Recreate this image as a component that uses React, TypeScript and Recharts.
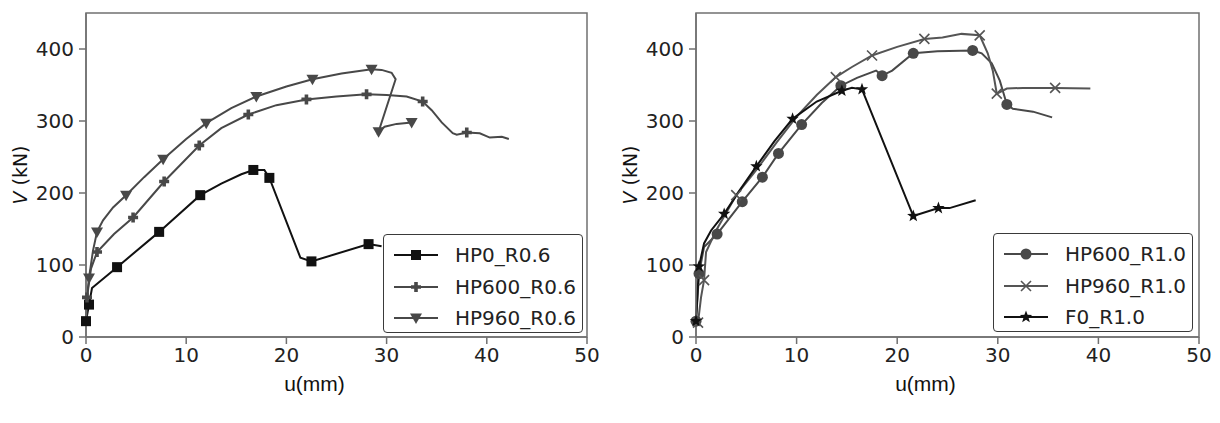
import React from "react";
import {
  ComposedChart,
  Line,
  Scatter,
  XAxis,
  YAxis,
  ReferenceArea,
} from "recharts";

type Pt = { x: number; y: number };

const xTicks = [0, 10, 20, 30, 40, 50];
const yTicks = [0, 100, 200, 300, 400];

// left panel, R0.6
const hp0R06Curve: Pt[] = [
  { x: 0, y: 22 }, { x: 0.3, y: 45 }, { x: 0.6, y: 68 }, { x: 3.1, y: 97 },
  { x: 7.3, y: 146 }, { x: 11.4, y: 197 }, { x: 13.5, y: 213 }, { x: 15.5, y: 226 },
  { x: 16.7, y: 232 }, { x: 17.8, y: 232 }, { x: 18.3, y: 221 }, { x: 21.4, y: 110 },
  { x: 22.5, y: 105 }, { x: 28.2, y: 129 }, { x: 29.5, y: 126 },
];
const hp0R06Marks: Pt[] = [
  { x: 0, y: 22 }, { x: 0.3, y: 45 }, { x: 3.1, y: 97 }, { x: 7.3, y: 146 },
  { x: 11.4, y: 197 }, { x: 16.7, y: 232 }, { x: 18.3, y: 221 }, { x: 22.5, y: 105 },
  { x: 28.2, y: 129 },
];

const hp600R06Curve: Pt[] = [
  { x: 0, y: 22 }, { x: 0.1, y: 55 }, { x: 0.5, y: 95 }, { x: 1.1, y: 118 },
  { x: 2.8, y: 143 }, { x: 4.7, y: 166 }, { x: 7.8, y: 216 }, { x: 11.3, y: 266 },
  { x: 13.5, y: 290 }, { x: 16.2, y: 309 }, { x: 19, y: 322 }, { x: 22, y: 330 },
  { x: 25, y: 334 }, { x: 28, y: 337 }, { x: 30, y: 336 }, { x: 32, y: 334 },
  { x: 33.6, y: 327 }, { x: 34.5, y: 315 }, { x: 35.5, y: 298 }, { x: 36.6, y: 283 },
  { x: 37, y: 281 }, { x: 38, y: 284 }, { x: 39.3, y: 283 }, { x: 40.3, y: 277 },
  { x: 41.5, y: 278 }, { x: 42.2, y: 275 },
];
const hp600R06Marks: Pt[] = [
  { x: 0.1, y: 55 }, { x: 1.1, y: 118 }, { x: 4.7, y: 166 }, { x: 7.8, y: 216 },
  { x: 11.3, y: 266 }, { x: 16.2, y: 309 }, { x: 22, y: 330 }, { x: 28, y: 337 },
  { x: 33.6, y: 327 }, { x: 38, y: 284 },
];

const hp960R06Curve: Pt[] = [
  { x: 0, y: 22 }, { x: 0.1, y: 55 }, { x: 0.3, y: 82 }, { x: 0.7, y: 120 },
  { x: 1.1, y: 146 }, { x: 1.7, y: 162 }, { x: 2.7, y: 180 }, { x: 4, y: 197 },
  { x: 5.8, y: 222 }, { x: 7.7, y: 247 }, { x: 10, y: 275 }, { x: 12, y: 297 },
  { x: 14.5, y: 318 }, { x: 17, y: 334 }, { x: 20, y: 348 }, { x: 22.6, y: 358 },
  { x: 25.5, y: 366 }, { x: 28.5, y: 372 }, { x: 29.5, y: 371 }, { x: 30.5, y: 367 },
  { x: 30.9, y: 358 }, { x: 29.2, y: 285 }, { x: 29.8, y: 292 }, { x: 31, y: 296 },
  { x: 32.5, y: 298 },
];
const hp960R06Marks: Pt[] = [
  { x: 0.3, y: 82 }, { x: 1.1, y: 146 }, { x: 4, y: 197 }, { x: 7.7, y: 247 },
  { x: 12, y: 297 }, { x: 17, y: 334 }, { x: 22.6, y: 358 }, { x: 28.5, y: 372 },
  { x: 29.2, y: 285 }, { x: 32.5, y: 298 },
];

// right panel, R1.0
const hp600R10Curve: Pt[] = [
  { x: 0, y: 22 }, { x: 0.3, y: 88 }, { x: 0.8, y: 125 }, { x: 2.1, y: 143 },
  { x: 4.6, y: 188 }, { x: 6.6, y: 222 }, { x: 8.2, y: 255 }, { x: 10.5, y: 295 },
  { x: 12.5, y: 325 }, { x: 14.4, y: 349 }, { x: 16, y: 360 }, { x: 17.9, y: 370 },
  { x: 18.5, y: 363 }, { x: 19.5, y: 370 }, { x: 21.6, y: 394 }, { x: 24, y: 397 },
  { x: 27.5, y: 398 }, { x: 28.4, y: 394 }, { x: 29.4, y: 380 }, { x: 30.2, y: 356 },
  { x: 30.9, y: 323 }, { x: 31.5, y: 317 }, { x: 33.5, y: 313 }, { x: 35.4, y: 305 },
];
const hp600R10Marks: Pt[] = [
  { x: 0, y: 22 }, { x: 0.3, y: 88 }, { x: 2.1, y: 143 }, { x: 4.6, y: 188 },
  { x: 6.6, y: 222 }, { x: 8.2, y: 255 }, { x: 10.5, y: 295 }, { x: 14.4, y: 349 },
  { x: 18.5, y: 363 }, { x: 21.6, y: 394 }, { x: 27.5, y: 398 }, { x: 30.9, y: 323 },
];

const hp960R10Curve: Pt[] = [
  { x: 0.2, y: 20 }, { x: 0.5, y: 55 }, { x: 0.8, y: 79 }, { x: 1, y: 118 },
  { x: 2, y: 148 }, { x: 4, y: 197 }, { x: 6, y: 232 }, { x: 8, y: 270 },
  { x: 10, y: 306 }, { x: 12, y: 336 }, { x: 13.9, y: 361 }, { x: 15.5, y: 375 },
  { x: 17.5, y: 391 }, { x: 20, y: 403 }, { x: 22.7, y: 414 }, { x: 24.5, y: 416 },
  { x: 26.4, y: 421 }, { x: 28.2, y: 419 }, { x: 29, y: 394 }, { x: 29.5, y: 370 },
  { x: 29.9, y: 338 }, { x: 30.9, y: 345 }, { x: 32.5, y: 346 }, { x: 35.7, y: 346 },
  { x: 39.2, y: 345 },
];
const hp960R10Marks: Pt[] = [
  { x: 0.2, y: 20 }, { x: 0.8, y: 79 }, { x: 4, y: 197 }, { x: 13.9, y: 361 },
  { x: 17.5, y: 391 }, { x: 22.7, y: 414 }, { x: 28.2, y: 419 }, { x: 29.9, y: 338 },
  { x: 35.7, y: 346 },
];

const f0R10Curve: Pt[] = [
  { x: 0, y: 22 }, { x: 0.3, y: 98 }, { x: 0.8, y: 130 }, { x: 1.5, y: 148 },
  { x: 2.8, y: 171 }, { x: 4.3, y: 203 }, { x: 6, y: 237 }, { x: 7.8, y: 272 },
  { x: 9.6, y: 303 }, { x: 12, y: 327 }, { x: 14.5, y: 342 }, { x: 15.5, y: 346 },
  { x: 16.5, y: 344 }, { x: 21.6, y: 168 }, { x: 24.1, y: 179 }, { x: 25.2, y: 179 },
  { x: 27.8, y: 190 },
];
const f0R10Marks: Pt[] = [
  { x: 0, y: 22 }, { x: 0.3, y: 98 }, { x: 2.8, y: 171 }, { x: 6, y: 237 },
  { x: 9.6, y: 303 }, { x: 14.5, y: 342 }, { x: 16.5, y: 344 }, { x: 21.6, y: 168 },
  { x: 24.1, y: 179 },
];

const BLACK = "#111";
const GRAY = "#484848";
const FRAME = "#707070";
const TICK_FONT = "'DejaVu Sans', Verdana, sans-serif";

// marker glyphs
const square = (cx: number, cy: number, c: string) => (
  <rect x={cx - 5} y={cy - 5} width={10} height={10} fill={c} />
);
const plus = (cx: number, cy: number, c: string) => (
  <path d={`M${cx - 5},${cy}H${cx + 5}M${cx},${cy - 5}V${cy + 5}`} stroke={c} strokeWidth={3.6} />
);
const triDown = (cx: number, cy: number, c: string) => (
  <polygon points={`${cx - 6},${cy - 4.5} ${cx + 6},${cy - 4.5} ${cx},${cy + 6}`} fill={c} />
);
const circle = (cx: number, cy: number, c: string) => <circle cx={cx} cy={cy} r={5.5} fill={c} />;
const cross = (cx: number, cy: number, c: string) => (
  <path d={`M${cx - 5},${cy - 5}L${cx + 5},${cy + 5}M${cx - 5},${cy + 5}L${cx + 5},${cy - 5}`} stroke={c} strokeWidth={1.6} />
);
const star = (cx: number, cy: number, c: string) => {
  const pts: string[] = [];
  for (let i = 0; i < 10; i++) {
    const r = i % 2 === 0 ? 6.5 : 2.7;
    const a = -Math.PI / 2 + (i * Math.PI) / 5;
    pts.push(`${cx + r * Math.cos(a)},${cy + r * Math.sin(a)}`);
  }
  return <polygon points={pts.join(" ")} fill={c} />;
};

type Glyph = (cx: number, cy: number, c: string) => React.ReactElement;

interface Series {
  name: string;
  curve: Pt[];
  marks: Pt[];
  color: string;
  glyph: Glyph;
}

const leftSeries: Series[] = [
  { name: "HP0_R0.6", curve: hp0R06Curve, marks: hp0R06Marks, color: BLACK, glyph: square },
  { name: "HP600_R0.6", curve: hp600R06Curve, marks: hp600R06Marks, color: GRAY, glyph: plus },
  { name: "HP960_R0.6", curve: hp960R06Curve, marks: hp960R06Marks, color: GRAY, glyph: triDown },
];
const rightSeries: Series[] = [
  { name: "HP600_R1.0", curve: hp600R10Curve, marks: hp600R10Marks, color: GRAY, glyph: circle },
  { name: "HP960_R1.0", curve: hp960R10Curve, marks: hp960R10Marks, color: "#555", glyph: cross },
  { name: "F0_R1.0", curve: f0R10Curve, marks: f0R10Marks, color: BLACK, glyph: star },
];

const LegendBox: React.FC<{ series: Series[]; left: number; top: number }> = ({ series, left, top }) => (
  <div
    style={{
      position: "absolute",
      left,
      top,
      width: 200,
      height: 99,
      background: "#fff",
      border: "1.5px solid #3a3a3a",
      borderRadius: 4,
      boxSizing: "border-box",
    }}
  >
    {series.map((s, i) => (
      <div key={s.name} style={{ position: "absolute", left: 8, top: 5 + i * 31.5, height: 30, display: "flex", alignItems: "center" }}>
        <svg width={46} height={30}>
          <line x1={2} y1={15} x2={46} y2={15} stroke={s.color} strokeWidth={2} />
          {s.glyph(24, 15, s.color)}
        </svg>
        <span style={{ marginLeft: 17, fontFamily: TICK_FONT, fontSize: 20, color: "#222", lineHeight: "30px" }}>{s.name}</span>
      </div>
    ))}
  </div>
);

const Panel: React.FC<{ series: Series[]; right: number }> = ({ series, right }) => (
  <ComposedChart width={610} height={423} margin={{ top: 13, right, bottom: 0, left: 0 }}>
    <XAxis
      type="number"
      dataKey="x"
      domain={[0, 50]}
      ticks={xTicks}
      height={86}
      stroke={FRAME}
      strokeWidth={1.5}
      tickSize={7}
      tickMargin={4}
      tick={{ fill: "#222", fontSize: 20, fontFamily: TICK_FONT }}
      label={{
        content: ({ viewBox }: any) => (
          <text
            x={viewBox.x + viewBox.width / 2 - 22}
            y={391}
            textAnchor="middle"
            fill="#111"
            fontSize={21}
            fontFamily="'Liberation Sans', Arial, sans-serif"
          >
            u(mm)
          </text>
        ),
      }}
    />
    <YAxis
      type="number"
      dataKey="y"
      domain={[0, 450]}
      ticks={yTicks}
      width={86}
      stroke={FRAME}
      strokeWidth={1.5}
      tickSize={7}
      tickMargin={5}
      tick={{ fill: "#222", fontSize: 20, fontFamily: TICK_FONT }}
      label={{
        content: ({ viewBox }: any) => {
          const cy = viewBox.y + viewBox.height / 2;
          return (
            <text
              x={20}
              y={cy}
              transform={`rotate(-90 20 ${cy})`}
              textAnchor="middle"
              dominantBaseline="central"
              fill="#111"
              fontSize={19}
              fontFamily={TICK_FONT}
            >
              <tspan fontStyle="italic">V</tspan> (kN)
            </text>
          );
        },
      }}
    />
    <ReferenceArea x1={0} x2={50} y1={0} y2={450} fill="none" stroke={FRAME} strokeWidth={1.5} ifOverflow="visible" />
    {series.map((s) => (
      <Line
        key={s.name + "-line"}
        data={s.curve}
        dataKey="y"
        type="linear"
        stroke={s.color}
        strokeWidth={2}
        dot={false}
        activeDot={false}
        isAnimationActive={false}
      />
    ))}
    {series.map((s) => (
      <Scatter
        key={s.name + "-marks"}
        data={s.marks}
        dataKey="y"
        isAnimationActive={false}
        shape={(p: any) => s.glyph(p.cx, p.cy, s.color)}
      />
    ))}
  </ComposedChart>
);

export default function App() {
  return (
    <div style={{ position: "absolute", left: 0, top: 0, width: 1220, height: 423, background: "#fff" }}>
      <div style={{ position: "absolute", left: 0, top: 0 }}>
        <Panel series={leftSeries} right={23} />
      </div>
      <div style={{ position: "absolute", left: 610, top: 0 }}>
        <Panel series={rightSeries} right={21} />
      </div>
      <LegendBox series={leftSeries} left={383} top={234} />
      <LegendBox series={rightSeries} left={993} top={233} />
    </div>
  );
}
